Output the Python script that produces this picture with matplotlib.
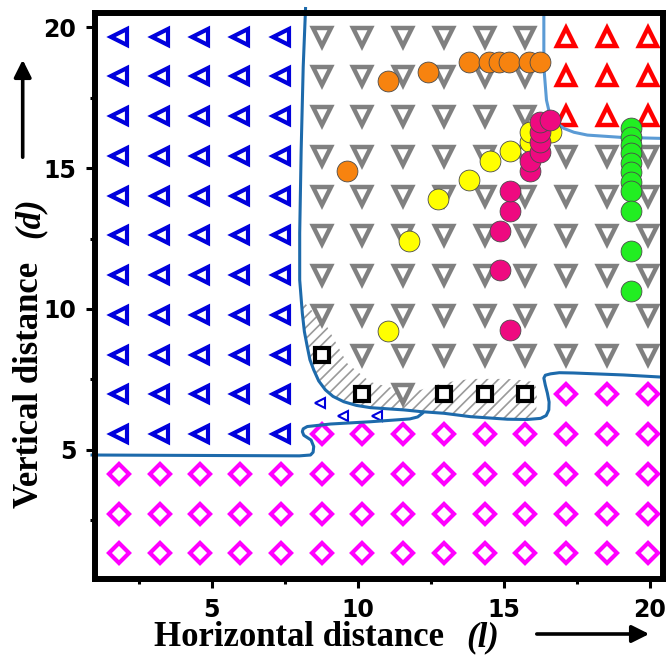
import matplotlib
matplotlib.use("Agg")
import matplotlib.pyplot as plt
from matplotlib.patches import FancyArrowPatch

# ---------------------------------------------------------------- data
# Regular sampling grid of (l, d) configurations
grid_x = [1.83, 3.21, 4.60, 5.98, 7.38, 8.77, 10.16, 11.55, 12.95, 14.34, 15.74, 17.14, 18.54, 19.94]
grid_y = [19.66, 18.25, 16.84, 15.43, 14.02, 12.61, 11.20, 9.79, 8.38, 6.97, 5.56, 4.15, 2.74, 1.33]

# Phase of each grid node (rows top to bottom, columns left to right)
# L = left-pointing, G = downward, R = upward, S = square, D = diamond, . = none
phase_map = [
    "LLLLLGGGGGGRRR",
    "LLLLLGGGGGGRRR",
    "LLLLLGGGGGGRRR",
    "LLLLLGGGGGGGGG",
    "LLLLLGGGGGGGGG",
    "LLLLLGGGGGGGGG",
    "LLLLLGGGGGGGGG",
    "LLLLLGGGGGGGGG",
    "LLLLLSGGGGGGGG",
    "LLLLL.SGSSSDDD",
    "LLLLLDDDDDDDDD",
    "DDDDDDDDDDDDDD",
    "DDDDDDDDDDDDDD",
    "DDDDDDDDDDDDDD",
]

# Extra points in the narrow pocket
small_x = [8.72, 9.50, 10.64]
small_y = [6.66, 6.21, 6.19]

# Simulated trajectories
orange_x = [9.64, 11.04, 12.41, 13.80, 14.49, 14.83, 15.17, 15.86, 16.23]
orange_y = [14.89, 18.09, 18.41, 18.77, 18.77, 18.77, 18.77, 18.77, 18.77]

yellow_x = [11.04, 11.75, 12.75, 13.80, 14.51, 15.20, 15.89, 15.89, 16.61]
yellow_y = [9.23, 12.41, 13.90, 14.57, 15.25, 15.60, 15.93, 16.29, 16.29]

pink_x = [15.20, 14.86, 14.86, 15.20, 15.20, 15.89, 15.89, 16.23, 16.23, 16.23, 16.23, 16.58]
pink_y = [9.26, 11.38, 12.78, 13.49, 14.20, 14.89, 15.25, 15.58, 15.93, 16.29, 16.64, 16.70]

green_x = [19.36] * 11
green_y = [16.41, 16.11, 15.82, 15.52, 15.17, 14.87, 14.51, 14.20, 13.49, 12.07, 10.65]

# Phase boundaries
bound_a_x = [8.21, 8.13, 8.06, 8.01, 8.01, 8.10, 8.17, 8.27, 8.36, 8.49, 8.66, 8.89, 9.15, 9.52,
             9.95, 10.43, 11.58, 12.15, 12.95, 13.86, 15.12, 15.80, 16.26, 16.45, 16.54, 16.55,
             16.49, 16.42, 16.37, 16.42, 16.60, 16.90, 17.39, 19.10, 20.47]
bound_a_y = [20.66, 18.59, 15.64, 12.70, 11.03, 9.85, 9.20, 8.66, 8.20, 7.84, 7.45, 7.13, 6.90, 6.71,
             6.58, 6.50, 6.42, 6.36, 6.30, 6.18, 6.09, 6.08, 6.12, 6.22, 6.42, 6.70,
             7.02, 7.30, 7.55, 7.65, 7.70, 7.74, 7.73, 7.66, 7.58]

bound_b_x = [0.90, 8.00, 8.38, 8.47, 8.49, 8.40, 8.15, 8.10, 8.13, 8.27, 9.07, 10.43, 11.78, 12.05, 12.21]
bound_b_y = [4.82, 4.79, 4.82, 4.92, 5.12, 5.35, 5.52, 5.65, 5.75, 5.83, 5.92, 6.00, 6.10, 6.17, 6.30]

bound_c_x = [16.37, 16.37, 16.46, 16.54, 16.66, 16.83, 17.05, 17.40, 17.86, 19.00, 20.48]
bound_c_y = [20.49, 18.59, 17.41, 17.05, 16.82, 16.58, 16.41, 16.27, 16.17, 16.09, 16.05]

# Hatched transition band
band_x = [8.06, 8.10, 8.27, 8.49, 8.89, 9.52, 10.43, 11.58, 12.15, 12.95, 13.86, 15.12, 16.10, 16.14,
          16.02, 15.57, 15.12, 13.86, 12.93, 12.15, 11.56, 10.43, 9.64, 8.95, 8.14]
band_y = [10.30, 9.85, 8.66, 7.84, 7.13, 6.71, 6.50, 6.42, 6.36, 6.30, 6.18, 6.09, 6.15, 7.13,
          7.41, 7.48, 7.52, 7.52, 7.38, 7.13, 7.09, 7.41, 8.07, 9.37, 10.26]

# ---------------------------------------------------------------- styles
phase_style = {
    "L": dict(marker="<", color="#0000DD", ms=11.0, mew=3.0),
    "G": dict(marker="v", color="#808080", ms=12.5, mew=3.2),
    "R": dict(marker="^", color="#FF0000", ms=12.5, mew=3.2),
    "S": dict(marker="s", color="#000000", ms=9.5, mew=3.0),
    "D": dict(marker="D", color="#FF00FF", ms=10.5, mew=3.0),
}

plt.rcParams["hatch.linewidth"] = 1.2

fig = plt.figure(figsize=(6.67, 6.56), dpi=100)
ax = fig.add_axes([0.1424, 0.1169, 0.8516, 0.8628])
ax.set_xlim(1.0, 20.45)
ax.set_ylim(0.41, 20.49)

# hatched band
ax.fill(band_x, band_y, facecolor="none", edgecolor="#9A9A9A", hatch="///",
        linewidth=0, zorder=1)

# grid phases
for key, st in phase_style.items():
    px, py = [], []
    for r, row in enumerate(phase_map):
        for c, ch in enumerate(row):
            if ch == key:
                px.append(grid_x[c])
                py.append(grid_y[r])
    ax.plot(px, py, linestyle="none", marker=st["marker"], ms=st["ms"],
            mfc="white", mec=st["color"], mew=st["mew"], zorder=3)

ax.plot(small_x, small_y, linestyle="none", marker="<", ms=6.5, mfc="white",
        mec="#0000DD", mew=1.5, zorder=3)

# boundaries
ax.plot(bound_a_x, bound_a_y, color="#1D6AAB", lw=2.2, zorder=4, clip_on=False,
        solid_joinstyle="round")
ax.plot(bound_b_x, bound_b_y, color="#1D6AAB", lw=2.2, zorder=4, clip_on=False,
        solid_joinstyle="round")
ax.plot(bound_c_x, bound_c_y, color="#5B9BD5", lw=2.2, zorder=4, clip_on=False,
        solid_joinstyle="round")

# trajectories
for xs, ys, col in [(orange_x, orange_y, "#F7830F"),
                    (yellow_x, yellow_y, "#FFFF00"),
                    (pink_x, pink_y, "#EE0A80"),
                    (green_x, green_y, "#22EE22")]:
    ax.plot(xs, ys, linestyle="none", marker="o", ms=15, mfc=col,
            mec="#4A4A4A", mew=0.6, zorder=5)

# axes styling
for side in ["left", "right", "top", "bottom"]:
    ax.spines[side].set_linewidth(4.3)
    ax.spines[side].set_zorder(6)
ax.set_xticks([5, 10, 15, 20])
ax.set_yticks([5, 10, 15, 20])
ax.set_xticks([2.5, 7.5, 12.5, 17.5], minor=True)
ax.set_yticks([2.5, 7.5, 12.5, 17.5], minor=True)
ax.tick_params(which="major", direction="out", length=6.5, width=2.2,
               labelsize=17, pad=7)
ax.tick_params(which="minor", direction="out", length=3.5, width=2.2)
ax.tick_params(top=False, right=False, which="both")
for lab in ax.get_xticklabels() + ax.get_yticklabels():
    lab.set_fontweight("bold")
    lab.set_fontfamily("DejaVu Sans")

W, H = 667.0, 656.0
serif = dict(fontfamily="Liberation Serif", fontweight="bold", fontsize=25)

fig.text(298.5 / W, 1 - 646 / H, "Horizontal distance", ha="center", va="baseline", **serif)
fig.text(483 / W, 1 - 646 / H, "(l)", ha="center", va="baseline", fontstyle="italic", **serif)
fig.text(30 / W, 1 - 385 / H, "Vertical distance", ha="center", va="center", rotation=90, **serif)
fig.text(30 / W, 1 - 218 / H, "(d)", ha="center", va="center", rotation=90, fontstyle="italic", **serif)

fig.add_artist(FancyArrowPatch((534 / W, 1 - 634 / H), (652 / W, 1 - 634 / H),
                               transform=fig.transFigure, arrowstyle="-|>",
                               mutation_scale=26, lw=2.6, color="black"))
fig.add_artist(FancyArrowPatch((22.7 / W, 1 - 160 / H), (22.7 / W, 1 - 57 / H),
                               transform=fig.transFigure, arrowstyle="-|>",
                               mutation_scale=26, lw=2.6, color="black"))

fig.savefig("out.png", dpi=100)
